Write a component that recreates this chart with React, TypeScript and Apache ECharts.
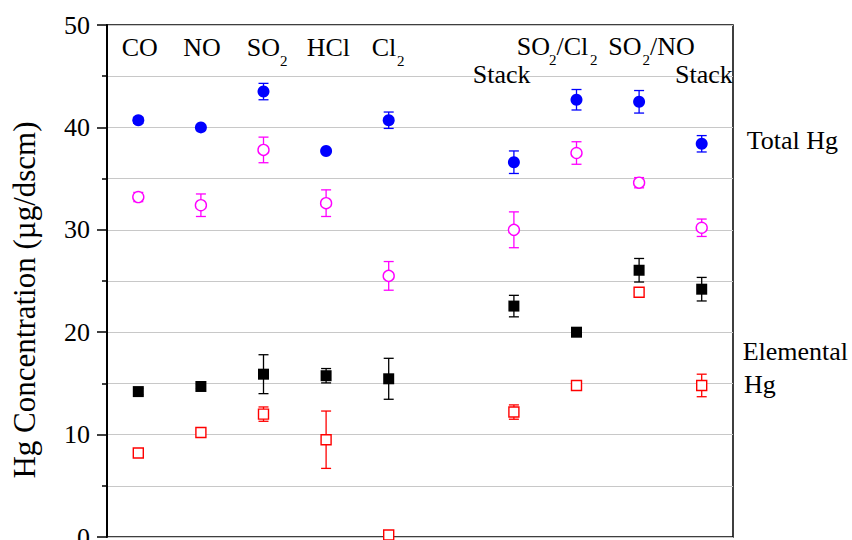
import React, { useEffect, useRef } from "react";
import * as echarts from "echarts";

// Category positions along the x scale (slot 6 is left empty)
const categories = ["CO", "NO", "SO2", "HCl", "Cl2", "Stack", "SO2/Cl2", "SO2/NO", "Stack"];
const xPositions = [1, 2, 3, 4, 5, 7, 8, 9, 10];

// Total Hg (blue filled circles)
const totalHg = [40.7, 40.0, 43.5, 37.7, 40.7, 36.6, 42.7, 42.5, 38.4];
const totalHgErr = [0.3, 0.2, 0.8, 0.2, 0.8, 1.1, 1.0, 1.1, 0.8];

// Total Hg, second measurement (magenta open circles)
const totalHg2 = [33.2, 32.4, 37.8, 32.6, 25.5, 30.0, 37.5, 34.6, 30.2];
const totalHg2Err = [0.45, 1.1, 1.25, 1.3, 1.4, 1.75, 1.1, 0.5, 0.85];

// Elemental Hg (black filled squares)
const elemHg = [14.2, 14.7, 15.9, 15.75, 15.45, 22.55, 20.0, 26.05, 24.2];
const elemHgErr = [0.3, 0.2, 1.9, 0.7, 2.0, 1.05, 0, 1.15, 1.15];

// Elemental Hg, second measurement (red open squares)
const elemHg2 = [8.2, 10.2, 12.0, 9.5, 0.2, 12.2, 14.8, 23.9, 14.8];
const elemHg2Err = [0.25, 0.15, 0.7, 2.8, 0.1, 0.7, 0.2, 0.3, 1.1];

const yTicks = [0, 10, 20, 30, 40, 50];

const FONT = "'Liberation Serif', 'Times New Roman', serif";

function pts(vals: number[]) {
  return vals.map((v, i) => [xPositions[i], v]);
}
function errPts(vals: number[], errs: number[]) {
  return vals.map((v, i) => [xPositions[i], v, errs[i]]).filter((d) => d[2] > 0);
}

function errSeries(vals: number[], errs: number[], color: string) {
  return {
    type: "custom",
    z: 1,
    silent: true,
    data: errPts(vals, errs),
    renderItem: (params: any, api: any) => {
      const x = api.value(0);
      const y = api.value(1);
      const e = api.value(2);
      const top = api.coord([x, y + e]);
      const bot = api.coord([x, y - e]);
      const hw = 5;
      const style = { stroke: color, lineWidth: 1.3 };
      return {
        type: "group",
        children: [
          { type: "line", shape: { x1: top[0], y1: top[1], x2: bot[0], y2: bot[1] }, style },
          { type: "line", shape: { x1: top[0] - hw, y1: top[1], x2: top[0] + hw, y2: top[1] }, style },
          { type: "line", shape: { x1: bot[0] - hw, y1: bot[1], x2: bot[0] + hw, y2: bot[1] }, style },
        ],
      };
    },
  };
}

function txt(text: string, x: number, y: number, size = 26, extra: any = {}) {
  return {
    type: "text",
    x,
    y,
    z: 10,
    ...extra,
    style: {
      text,
      fontFamily: FONT,
      fontSize: size,
      fill: "#000",
      textAlign: "left",
      verticalAlign: "middle",
      ...(extra.style || {}),
    },
  };
}

export default function App() {
  const ref = useRef<HTMLDivElement>(null);
  useEffect(() => {
    if (!ref.current) return;
    const chart = echarts.init(ref.current, undefined, { renderer: "svg" });
    const option: any = {
      animation: false,
      backgroundColor: "#fff",
      grid: {
        left: 107,
        right: 119,
        top: 25,
        bottom: 3,
        outerBoundsMode: "none",
        containLabel: false,
        show: true,
        borderColor: "#000",
        borderWidth: 1.5,
        backgroundColor: "transparent",
      },
      xAxis: {
        type: "value",
        min: 0.5,
        max: 10.5,
        show: false,
        splitLine: { show: false },
      },
      yAxis: {
        type: "value",
        min: 0,
        max: 50,
        interval: 10,
        axisLine: { show: true, lineStyle: { color: "#000", width: 2 } },
        axisTick: { show: true, inside: false, length: 10, lineStyle: { color: "#000", width: 1.5 } },
        minorTick: { show: true, splitNumber: 2, length: 5, lineStyle: { color: "#000", width: 1.5 } },
        splitLine: { show: true, lineStyle: { color: "#c8c8c8", width: 1.2 } },
        minorSplitLine: { show: true, lineStyle: { color: "#c8c8c8", width: 1.2 } },
        axisLabel: {
          margin: 17,
          fontFamily: FONT,
          fontSize: 26,
          color: "#000",
          formatter: (v: number) => (yTicks.includes(v) ? String(v) : ""),
        },
      },
      series: [
        errSeries(totalHg, totalHgErr, "#0000ff"),
        errSeries(totalHg2, totalHg2Err, "#ff00ff"),
        errSeries(elemHg, elemHgErr, "#000000"),
        errSeries(elemHg2, elemHg2Err, "#ff0000"),
        {
          type: "scatter",
          name: "Total Hg",
          z: 3,
          symbol: "circle",
          symbolSize: 12,
          itemStyle: { color: "#0000ff", opacity: 1 },
          data: pts(totalHg),
        },
        {
          type: "scatter",
          z: 3,
          symbol: "circle",
          symbolSize: 11,
          itemStyle: { color: "#ffffff", borderColor: "#ff00ff", borderWidth: 1.4, opacity: 1 },
          data: pts(totalHg2),
        },
        {
          type: "scatter",
          name: "Elemental Hg",
          z: 3,
          symbol: "rect",
          symbolSize: 11,
          itemStyle: { color: "#000000", opacity: 1 },
          data: pts(elemHg),
        },
        {
          type: "scatter",
          z: 3,
          symbol: "rect",
          symbolSize: 10,
          itemStyle: { color: "#ffffff", borderColor: "#ff0000", borderWidth: 1.4, opacity: 1 },
          data: pts(elemHg2),
        },
      ],
      graphic: [
        // y-axis title
        {
          type: "text",
          x: 24,
          y: 300,
          rotation: Math.PI / 2,
          style: {
            text: "Hg Concentration (µg/dscm)",
            fontFamily: FONT,
            fontSize: 31,
            fill: "#000",
            textAlign: "center",
            verticalAlign: "middle",
          },
        },
        // category labels
        txt(categories[0], 121.7, 47.5),
        txt(categories[1], 183.3, 47.5),
        txt("SO", 246.7, 47.5),
        txt("2", 280, 61, 15),
        txt(categories[3], 306.7, 47.5),
        txt("Cl", 371.7, 47.5),
        txt("2", 397, 61, 15),
        txt(categories[5], 472.7, 74.5),
        txt("SO", 516.7, 46),
        txt("2", 549, 59.5, 15),
        txt("/Cl", 556.5, 46),
        txt("2", 590, 59.5, 15),
        txt("SO", 608.3, 46),
        txt("2", 642.5, 59.5, 15),
        txt("/NO", 650, 46),
        txt(categories[8], 675, 74.5),
        // series labels
        txt("Total Hg", 746.7, 140),
        txt("Elemental", 742.7, 351),
        txt("Hg", 744, 384),
      ],
    };
    chart.setOption(option);
    return () => chart.dispose();
  }, []);
  return (
    <div
      ref={ref}
      style={{ position: "fixed", left: 0, top: 0, width: 852, height: 540, background: "#fff" }}
    />
  );
}
